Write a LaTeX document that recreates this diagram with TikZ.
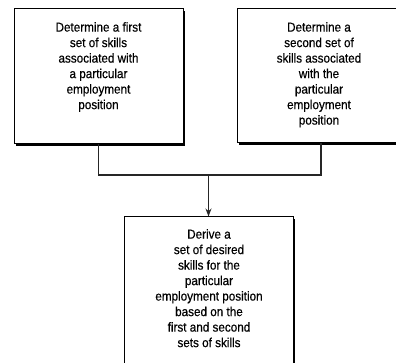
\documentclass[tikz,border=0pt]{standalone}
\usepackage{fontspec}
\setmainfont{Liberation Sans}
\usetikzlibrary{arrows.meta}
\begin{document}
\begin{tikzpicture}[x=1pt,y=-1pt,
  stepbox/.style={draw=black, line width=1pt, fill=white, minimum width=#1, inner sep=0pt},
  shade/.style={fill=black},
  steptext/.style={align=center, anchor=north, inner sep=0pt,
    font=\fontsize{13}{15.5}\selectfont\addfontfeatures{FakeStretch=0.9,FakeBold=0.4}},
  wire/.style={line width=1.2pt, draw=black!85}]
\useasboundingbox (0,0) rectangle (396,363);
\clip (0,0) rectangle (396,363);

% drop shadows
\fill[shade] (16,11) rectangle (185.2,146.2);
\fill[shade] (239,11) rectangle (410,145.2);
\fill[shade] (126,219) rectangle (295.2,370);

% boxes
\node[stepbox=169pt, minimum height=135pt] (b1) at (98.5,76.5) {};
\node[stepbox=168pt, minimum height=134pt] (b2) at (321,76) {};
\node[stepbox=169pt, minimum height=150pt] (b3) at (208.5,292) {};

% box texts
\node[steptext] (t1) at (98.5,22) {Determine a first\\set of skills\\associated with\\a particular\\employment\\position};
\node[steptext] (t2) at (319,22) {Determine a\\second set of\\skills associated\\with the\\particular\\employment\\position};
\node[steptext] (t3) at (209,229) {Derive a\\set of desired\\skills for the\\particular\\employment position\\based on the\\first and second\\sets of skills};

% joining connectors
\coordinate (j) at (208.5,175);
\draw[wire] (b1.south) |- (j) -| (b2.south);
\draw[wire, -{Stealth[length=8pt,width=6pt]}] (j) -- (b3.north);
\end{tikzpicture}
\end{document}
